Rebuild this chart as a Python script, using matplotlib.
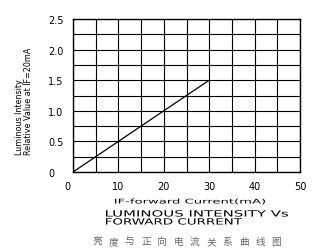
import numpy as np
import matplotlib.pyplot as plt
import matplotlib.transforms as mtransforms
from matplotlib.textpath import TextPath
from matplotlib.patches import PathPatch
from matplotlib.font_manager import FontProperties

# 数据
current = [0, 30]
intensity = [0, 1.5]
x_ticks = [0, 10, 20, 30, 40, 50]
y_ticks = [0, 0.5, 1.0, 1.5, 2.0, 2.5]
y_tick_labels = ["0", "0.5", "1.0", "1.5", "2.0", "2.5"]
title_cn = "亮度与正向电流关系曲线图"

W, H = 316, 251
fig = plt.figure(figsize=(W / 100, H / 100), dpi=100)
ax = fig.add_axes([73 / W, 1 - 173 / H, 227 / W, 153 / H])


def wide_text(s, x0, x1, base, em):
    """横向拉伸的文字（像素坐标，y从顶部算）"""
    tp = TextPath((0, 0), s, size=em, prop=FontProperties(family="DejaVu Sans"))
    ext = tp.get_extents()
    sx = (x1 - x0) / ext.width
    tr = mtransforms.Affine2D().scale(sx, 1).translate(x0 - ext.x0 * sx, H - base)
    fig.add_artist(PathPatch(tp, transform=tr, fc="black", lw=0))


ax.plot(current, intensity, color="black", lw=0.9)

ax.set_xlim(0, 50)
ax.set_ylim(0, 2.5)
ax.set_xticks(x_ticks)
ax.set_yticks(y_ticks)
ax.set_yticklabels(y_tick_labels)
ax.set_xticks(np.arange(0, 51, 5), minor=True)
ax.set_yticks(np.arange(0, 2.51, 0.25), minor=True)
ax.grid(which="both", color="black", lw=0.8)
ax.tick_params(which="both", length=0, labelsize=7)
ax.tick_params(axis="x", pad=6.5)
ax.tick_params(axis="y", pad=18)
for lab in ax.get_yticklabels():
    lab.set_horizontalalignment("left")
# "0" 稍微偏左
lab0 = ax.get_xticklabels()[0]
lab0.set_transform(lab0.get_transform() +
                   mtransforms.ScaledTranslation(-0.06, 0, fig.dpi_scale_trans))
for s in ax.spines.values():
    s.set_linewidth(1.0)

fig.text(24 / W, 1 - 155 / H, "Luminous Intensity\nRelative Value at IF=20mA",
         fontsize=5.8, rotation=90, ha="center", va="bottom",
         multialignment="left", linespacing=1.1)

wide_text("IF-forward Current(mA)", 115, 265, 204.5, 6.5)
wide_text("LUMINOUS INTENSITY Vs", 106, 288, 217.5, 8.5)
wide_text("FORWARD CURRENT", 106, 242, 225.5, 8.5)

for i, ch in enumerate(title_cn):
    fig.text((97 + i * 16.3) / W, 1 - 245 / H, ch, fontsize=7, ha="center",
             va="baseline", color="#666666", family=["Noto Sans CJK SC", "DejaVu Sans"])

fig.savefig("out.png", dpi=100)
